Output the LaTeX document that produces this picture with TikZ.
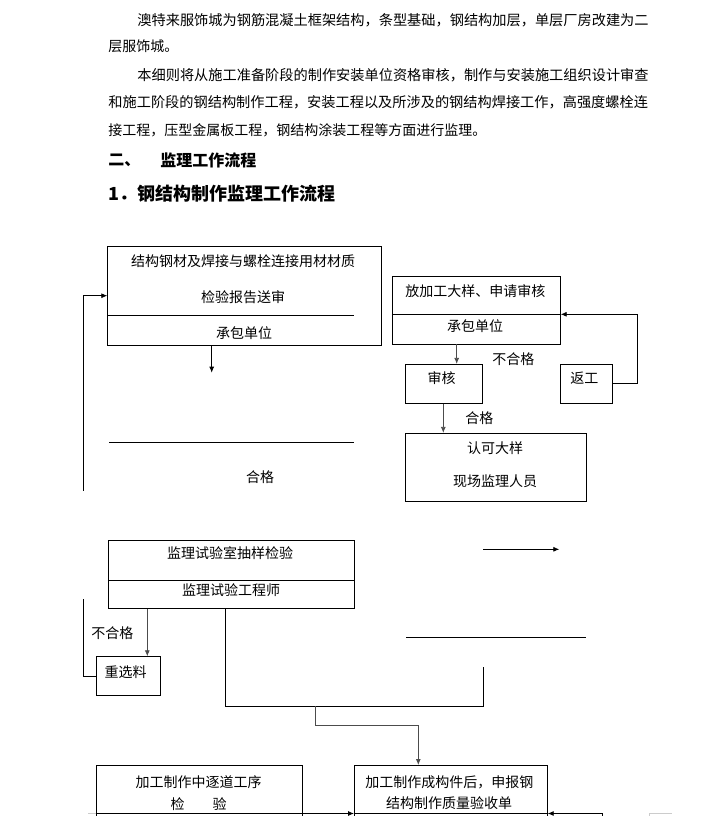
\documentclass[tikz,border=0pt]{standalone}
\usepackage{fontspec}
\setmainfont{Noto Sans CJK SC}
\usetikzlibrary{arrows.meta}

\begin{document}
\begin{tikzpicture}[x=1pt, y=-1pt, line width=0.8pt, font=\fontsize{14pt}{17pt}\selectfont,
  box/.style={draw, inner sep=0pt},
  arr/.style={-{Latex[length=6pt,width=5pt]}},
  para/.style={anchor=west, inner sep=0pt},
  fullline/.style={para, font=\fontsize{#1}{17pt}\selectfont}]
  \useasboundingbox (0,0) rectangle (712,816);
  \clip (0,0) rectangle (712,816);

  \node[fullline=14.2pt] (p1) at (137,20) {澳特来服饰城为钢筋混凝土框架结构，条型基础，钢结构加层，单层厂房改建为二};
  \node[para] (p2) at (108,46) {层服饰城。};
  \node[fullline=14.2pt] (p3) at (137,75) {本细则将从施工准备阶段的制作安装单位资格审核，制作与安装施工组织设计审查};
  \node[fullline=14.2pt] (p4) at (108,102) {和施工阶段的钢结构制作工程，安装工程以及所涉及的钢结构焊接工作，高强度螺栓连};
  \node[para] (p5) at (108,130) {接工程，压型金属板工程，钢结构涂装工程等方面进行监理。};
  \node[para, font=\fontsize{16pt}{19pt}\selectfont\bfseries] (sec) at (108,160) {二、};
  \node[para, font=\fontsize{16pt}{19pt}\selectfont\bfseries] (sect) at (160,160) {监理工作流程};
  \node[para, font=\fontsize{18pt}{21pt}\selectfont\bfseries] (sub) at (108,194) {1．钢结构制作监理工作流程};

  \node[box, minimum width=274pt, minimum height=99pt] (boxA) at (244.7,295.5) {};
  \node (a1) at (243,261) {结构钢材及焊接与螺栓连接用材材质};
  \node (a2) at (243,297) {检验报告送审};
  \node (a3) at (244,333) {承包单位};
  \draw (boxA.west |- 0,315.3) -- (354,315.3);
  \coordinate (aEnd) at (211.7,372.7);
  \draw[arr] (boxA.south -| aEnd) -- (aEnd);
  \draw (109,442) -- (354,442);
  \node (hg1) at (260,477) {合格};
  \coordinate (fbA) at (83.3,490.7);
  \draw[arr] (fbA) |- (boxA.west |- 0,295.7);

  \node[box, minimum width=168pt, minimum height=68pt] (boxB) at (476.3,310) {};
  \node (b1) at (475.3,291) {放加工大样、申请审核};
  \node (b2) at (475,326) {承包单位};
  \draw (boxB.west |- 0,314.3) -- (boxB.east |- 0,314.3);
  \node[box, minimum width=77.4pt, minimum height=39pt] (shenhe) at (444,383.8) {};
  \node (sh) at (441.7,378.3) {审核};
  \node[box, minimum width=52pt, minimum height=39pt] (fangong) at (586.3,383.8) {};
  \node (fg) at (584.3,378.3) {返工};
  \draw[arr, draw=black!70] (boxB.south -| 456.7,0) -- (shenhe.north -| 456.7,0);
  \node (bhg1) at (513.3,359) {不合格};
  \coordinate (retR) at (637.3,314.3);
  \draw[arr] (fangong.east) -| (retR) -- (boxB.east |- retR);
  \node[box, minimum width=180.7pt, minimum height=68.4pt] (renke) at (495.7,467.5) {};
  \node (r1) at (495,448.3) {认可大样};
  \node (r2) at (495,481.7) {现场监理人员};
  \draw[arr, draw=black!70] (shenhe.south -| 443.3,0) -- (renke.north -| 443.3,0);
  \node (hg2) at (479.3,418.3) {合格};

  \node[box, minimum width=246pt, minimum height=68.3pt] (boxC) at (231.3,574.2) {};
  \node (c1) at (230,553.3) {监理试验室抽样检验};
  \node (c2) at (231,590) {监理试验工程师};
  \draw (boxC.west |- 0,580) -- (boxC.east |- 0,580);
  \node[box, minimum width=64.7pt, minimum height=39pt] (chong) at (128.3,676.2) {};
  \node (cx) at (125.7,671.7) {重选料};
  \draw[arr, draw=black!70] (boxC.south -| 147.3,0) -- (chong.north -| 147.3,0);
  \node (bhg2) at (112.3,633.3) {不合格};
  \coordinate (fbC) at (83.3,599);
  \draw (chong.west) -| (fbC);
  \coordinate (midR) at (483.3,666.7);
  \draw (boxC.south -| 225.7,0) |- (midR |- 0,706) -- (midR);
  \coordinate (s1) at (483.3,549.3);
  \coordinate (s2) at (559.3,549.3);
  \draw[arr] (s1) -- (s2);
  \draw (406,637.3) -- (585.7,637.3);

  \node[box, minimum width=206.3pt, minimum height=94.6pt] (jia1) at (199.15,812.7) {};
  \node[box, minimum width=192.9pt, minimum height=94.6pt] (jia2) at (450.85,812.7) {};
  \node (j1) at (198.6,781.8) {加工制作中逐道工序};
  \node (j2) at (198.6,803.7) {检\hspace{2em}验};
  \node (j3) at (449.3,782) {加工制作成构件后，申报钢};
  \node (j4) at (449,803) {结构制作质量验收单};
  \coordinate (brA) at (315.3,706);
  \draw[arr, draw=black!70] (brA) |- (418.3,725) -- (jia2.north -| 418.3,0);
  \draw (jia1.west |- 0,813.5) -- (jia1.east |- 0,813.5);
  \draw[arr] (jia1.east |- 0,813.5) -- (jia2.west |- 0,813.5);
  \draw (jia2.west |- 0,813.5) -- (jia2.east |- 0,813.5);
  \coordinate (rIn) at (602,830);
  \draw[arr] (rIn) |- (jia2.east |- 0,813.5);
  \draw[gray!40] (88,813.5) -- (96,813.5);
  \draw[gray!40] (649,816) -- (649,813.5) -- (672,813.5);
\end{tikzpicture}
\end{document}
